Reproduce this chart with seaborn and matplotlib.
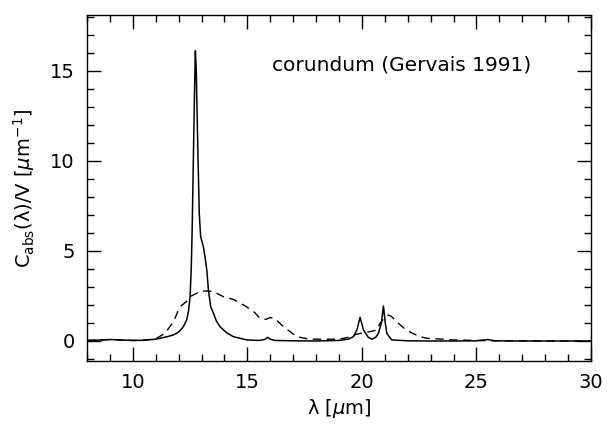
import matplotlib
matplotlib.use("Agg")
import matplotlib.pyplot as plt
from matplotlib.ticker import MultipleLocator
import seaborn as sns
import pandas as pd

# solid curve (small-particle absorption)
solid_x = [8.0, 8.5, 9.0, 9.5, 10.0, 10.5, 11.0, 11.19, 11.5, 11.75, 11.92, 12.05,
           12.15, 12.25, 12.35, 12.43, 12.5, 12.55, 12.59, 12.64, 12.69, 12.73,
           12.77, 12.82, 12.9, 12.96, 13.08, 13.15, 13.23, 13.3, 13.4, 13.52,
           13.65, 13.81, 14.1, 14.39, 14.97, 15.5, 15.75, 15.89, 16.0, 16.2, 17.0,
           18.0, 19.0, 19.4, 19.63, 19.78, 19.92, 20.07, 20.28, 20.43, 20.6, 20.72,
           20.85, 20.94, 21.02, 21.09, 21.3, 22.0, 23.0, 24.0, 25.0, 25.5, 25.8,
           27.0, 30.0]
solid_y = [0.03, 0.05, 0.08, 0.06, 0.03, 0.04, 0.10, 0.15, 0.24, 0.33, 0.43, 0.56,
           0.70, 0.90, 1.17, 1.65, 2.46, 4.0, 6.16, 9.86, 13.56, 16.1,
           15.0, 11.7, 7.09, 5.79, 5.23, 4.68, 3.94, 2.83, 1.90, 1.54,
           1.10, 0.79, 0.45, 0.24, 0.06, 0.03, 0.08, 0.20, 0.10, 0.03, 0.01,
           0.0, 0.03, 0.10, 0.24, 0.61, 1.31, 0.61, 0.20, 0.10, 0.20, 0.42,
           1.00, 1.94, 1.00, 0.42, 0.06, 0.01, 0.0, 0.0, 0.01, 0.08, 0.01,
           0.0, 0.0]

# dashed curve
dash_x = [8.0, 9.0, 10.0, 10.5, 11.0, 11.41, 11.77, 12.06, 12.35, 12.5, 12.93, 13.2,
          13.52, 13.95, 14.4, 14.9, 15.3, 15.55, 15.8, 16.0, 16.2, 16.57, 17.16,
          17.7, 18.5, 19.0, 19.4, 19.63, 20.07, 20.36, 20.65, 20.79, 21.0, 21.16,
          21.3, 21.6, 21.89, 22.2, 22.54, 22.83, 23.3, 24.0, 25.0, 26.0, 28.0, 30.0]
dash_y = [0.03, 0.08, 0.03, 0.05, 0.12, 0.43, 1.07, 1.90, 2.20, 2.46, 2.74, 2.78,
          2.74, 2.46, 2.30, 1.95, 1.60, 1.26, 1.20, 1.30, 1.25, 0.80, 0.24,
          0.10, 0.10, 0.10, 0.20, 0.33, 0.46, 0.52, 0.61, 0.98, 1.30, 1.44,
          1.35, 0.98, 0.65, 0.43, 0.24, 0.15, 0.12, 0.06, 0.03, 0.01, 0.0, 0.0]

x_ticks = [10, 15, 20, 25, 30]
y_ticks = [0, 5, 10, 15]
annotation = "corundum (Gervais 1991)"

sns.set_theme(style="ticks")
plt.rcParams['font.family'] = ['DejaVu Sans']
plt.rcParams['mathtext.fontset'] = 'dejavusans'
plt.rcParams['text.color'] = 'black'
plt.rcParams['axes.labelcolor'] = 'black'

fig = plt.figure(figsize=(6.09, 4.26), dpi=100)
ax = fig.add_axes([87/609, 1-361/426, (591-87)/609, (361-15.3)/426])

df_s = pd.DataFrame({"x": solid_x, "y": solid_y})
df_d = pd.DataFrame({"x": dash_x, "y": dash_y})
sns.lineplot(data=df_s, x="x", y="y", ax=ax, color="black", lw=1.1, sort=False)
sns.lineplot(data=df_d, x="x", y="y", ax=ax, color="black", lw=1.0, sort=False)
ax.lines[-1].set_dashes([6, 4])

ax.set_xlim(8, 30)
ax.set_ylim(-1.11, 18.07)
ax.set_xticks(x_ticks)
ax.set_yticks(y_ticks)
ax.xaxis.set_minor_locator(MultipleLocator(1))
ax.yaxis.set_minor_locator(MultipleLocator(1))
ax.tick_params(which="both", direction="in", top=True, right=True,
               colors="black", labelsize=14, width=1.0)
ax.tick_params(which="major", length=10, pad=9)
ax.tick_params(which="minor", length=5)
for s in ax.spines.values():
    s.set_linewidth(1.0)
    s.set_color("black")

ax.set_xlabel(r"λ [$\mu$m]", fontsize=14, labelpad=3, color="black")
ax.set_ylabel(r"C$_{\rm abs}$(λ)/V [$\mu$m$^{-1}$]", fontsize=14, labelpad=9,
              color="black")
ax.text(16.07, 15.3, annotation, fontsize=14.5, va="center", ha="left",
        color="black")

fig.savefig("out.png", dpi=100)
